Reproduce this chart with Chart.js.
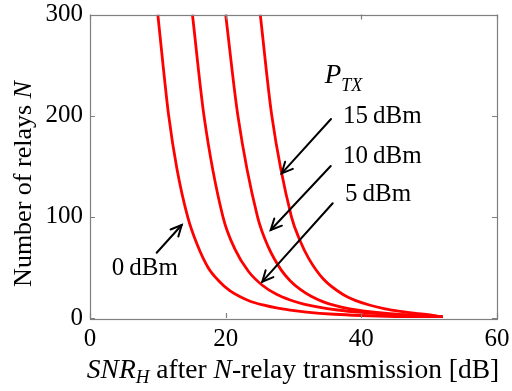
<!DOCTYPE html>
<html><head><meta charset="utf-8">
<script src="https://cdn.jsdelivr.net/npm/chart.js@4.4.1/dist/chart.umd.min.js"></script>
<style>html,body{margin:0;padding:0;background:#fff}canvas{display:block}</style>
</head><body>
<canvas id="c" width="512" height="391"></canvas>
<script>
// ---- data ----
const xTicks = [0, 20, 40, 60];
const yTicks = [0, 100, 200, 300];
const seriesNames = ['0 dBm', '5 dBm', '10 dBm', '15 dBm'];

const snr0    = [10.0, 10.8, 11.6, 12.8, 14.4, 15.8, 17.4, 19.0, 20.6, 22.0, 23.6, 25.5, 27.5, 29.5, 31.9, 36.0, 40.0, 45.0, 52.0];
const relays0 = [300, 248, 200, 148, 100, 72.6, 50, 36.6, 27, 21.5, 16.6, 12.9, 9.9, 7.8, 5.9, 3.7, 2.45, 1.5, 0.8];

const snr5    = [15.1, 16.8, 19.6, 21.4, 23.4, 25.4, 27.5, 29.5, 31.5, 33.5, 36.5, 40.0, 44.0, 48.0, 52.0];
const relays5 = [300, 200, 100, 67.6, 45.7, 32.4, 23.4, 17.8, 13.8, 11, 7.9, 5.5, 3.6, 2.4, 1.4];

const snr10    = [20.0, 21.8, 24.7, 26.3, 28.2, 29.5, 31.0, 32.6, 34.3, 36.2, 38.3, 40.5, 44.2, 48.0, 52.0];
const relays10 = [300, 200, 100, 70, 47.3, 36.9, 28.2, 21.4, 16.2, 12.2, 9.0, 6.8, 4.3, 2.7, 1.4];

const snr15    = [25.1, 26.8, 29.7, 31.0, 32.3, 34.4, 37.3, 39.2, 41.3, 43.5, 45.7, 48.0, 50.1, 51.9];
const relays15 = [300, 200, 100, 75.9, 58.2, 38.5, 23.2, 17.2, 12.6, 9.1, 6.6, 4.6, 3.0, 0.8];

const seriesX = [snr0, snr5, snr10, snr15];
const seriesY = [relays0, relays5, relays10, relays15];

// ---- annotation layout (data units) ----
const FONT = 'Liberation Serif, "Times New Roman", serif';
const arrows = [
  {from:[9.83, 64.5], to:[13.52, 91.9]},
  {from:[35.53, 196.7], to:[28.26, 143.0]},
  {from:[35.49, 150.2], to:[26.64, 87.0]},
  {from:[35.78, 113.4], to:[25.40, 35.9]}
];
const labels = [
  {text:'0\u2009dBm', at:[3.2, 48.7]},
  {text:'15\u2009dBm', at:[37.3, 199.7]},
  {text:'10\u2009dBm', at:[37.3, 160.1]},
  {text:'5\u2009dBm', at:[37.6, 122.6]}
];

function drawRuns(ctx, runs, x, y, align) {
  let w = 0;
  runs.forEach(r => { ctx.font = r.font; r.w = ctx.measureText(r.t).width; w += r.w; });
  let cx = align === 'center' ? x - w / 2 : x;
  ctx.textAlign = 'left';
  ctx.textBaseline = 'alphabetic';
  runs.forEach(r => { ctx.font = r.font; ctx.fillText(r.t, cx, y + (r.dy || 0)); cx += r.w; });
}

function noPad(s) { s.paddingTop = 0; s.paddingBottom = 0; s.paddingLeft = 0; s.paddingRight = 0; }

const deco = {
  id: 'deco',
  afterDraw(chart) {
    const ctx = chart.ctx, a = chart.chartArea;
    const xs = chart.scales.x, ys = chart.scales.y;
    ctx.save();
    // box
    ctx.strokeStyle = '#7f7f7f';
    ctx.lineWidth = 1.2;
    ctx.strokeRect(Math.round(a.left) + 0.5, Math.round(a.top) + 0.5,
                   Math.round(a.right - a.left), Math.round(a.bottom - a.top));
    // inward ticks
    const tl = 5;
    ctx.beginPath();
    xTicks.forEach(v => {
      const px = Math.round(xs.getPixelForValue(v)) + 0.5;
      ctx.moveTo(px, a.bottom); ctx.lineTo(px, a.bottom - tl);
      ctx.moveTo(px, a.top); ctx.lineTo(px, a.top + tl);
    });
    yTicks.forEach(v => {
      const py = Math.round(ys.getPixelForValue(v)) + 0.5;
      ctx.moveTo(a.left, py); ctx.lineTo(a.left + tl, py);
      ctx.moveTo(a.right, py); ctx.lineTo(a.right - tl, py);
    });
    ctx.stroke();

    ctx.fillStyle = '#000';
    // y title
    ctx.save();
    ctx.translate(22, 184);
    ctx.rotate(-Math.PI / 2);
    drawRuns(ctx, [
      {t:'Number of relays ', font:'26px ' + FONT},
      {t:'N', font:'italic 26px ' + FONT}
    ], 0, 9, 'center');
    ctx.restore();
    // x title
    drawRuns(ctx, [
      {t:'SNR', font:'italic 27.5px ' + FONT},
      {t:'H', font:'italic 19px ' + FONT, dy:5},
      {t:' after ', font:'27.5px ' + FONT},
      {t:'N', font:'italic 27.5px ' + FONT},
      {t:'-relay transmission [dB]', font:'27.5px ' + FONT}
    ], 293, 378, 'center');

    // arrows
    ctx.strokeStyle = '#000';
    ctx.lineWidth = 2;
    ctx.lineCap = 'round';
    arrows.forEach(ar => {
      const x1 = xs.getPixelForValue(ar.from[0]), y1 = ys.getPixelForValue(ar.from[1]);
      const x2 = xs.getPixelForValue(ar.to[0]), y2 = ys.getPixelForValue(ar.to[1]);
      ctx.beginPath(); ctx.moveTo(x1, y1); ctx.lineTo(x2, y2); ctx.stroke();
      const ang = Math.atan2(y2 - y1, x2 - x1), h = 12, sp = 0.45;
      ctx.beginPath();
      ctx.moveTo(x2 - h * Math.cos(ang - sp), y2 - h * Math.sin(ang - sp));
      ctx.lineTo(x2, y2);
      ctx.lineTo(x2 - h * Math.cos(ang + sp), y2 - h * Math.sin(ang + sp));
      ctx.stroke();
    });
    // labels
    labels.forEach(l => {
      ctx.font = '25px ' + FONT;
      ctx.textAlign = 'left'; ctx.textBaseline = 'middle';
      ctx.fillText(l.text, xs.getPixelForValue(l.at[0]), ys.getPixelForValue(l.at[1]));
    });
    // P_TX
    drawRuns(ctx, [
      {t:'P', font:'italic 27px ' + FONT},
      {t:'TX', font:'italic 18px ' + FONT, dy:8}
    ], xs.getPixelForValue(34.6), ys.getPixelForValue(232.2), 'left');
    ctx.restore();
  }
};

new Chart(document.getElementById('c').getContext('2d'), {
  type: 'scatter',
  data: {
    datasets: seriesX.map((xsArr, i) => ({
      label: seriesNames[i],
      data: xsArr.map((v, j) => ({x: v, y: seriesY[i][j]})),
      showLine: true,
      borderColor: '#ff0000',
      backgroundColor: '#ff0000',
      borderWidth: 2.8,
      pointRadius: 0,
      cubicInterpolationMode: 'monotone',
      fill: false
    }))
  },
  options: {
    responsive: false,
    animation: false,
    devicePixelRatio: 1,
    layout: {padding: {top: 14.5, right: 15, left: 0, bottom: 0}},
    plugins: {legend: {display: false}, tooltip: {enabled: false}},
    scales: {
      x: {
        type: 'linear', min: 0, max: 60,
        afterFit(s) { s.height = 73; noPad(s); },
        afterBuildTicks(s) { s.ticks = xTicks.map(v => ({value: v})); },
        grid: {display: false, drawTicks: false},
        border: {display: false},
        ticks: {color: '#000', font: {family: FONT, size: 25}, padding: 6, maxRotation: 0}
      },
      y: {
        type: 'linear', min: 0, max: 300,
        afterFit(s) { s.width = 90; noPad(s); },
        afterBuildTicks(s) { s.ticks = yTicks.map(v => ({value: v})); },
        grid: {display: false, drawTicks: false},
        border: {display: false},
        ticks: {color: '#000', font: {family: FONT, size: 25}, padding: 7}
      }
    }
  },
  plugins: [deco]
});
</script>
</body></html>
